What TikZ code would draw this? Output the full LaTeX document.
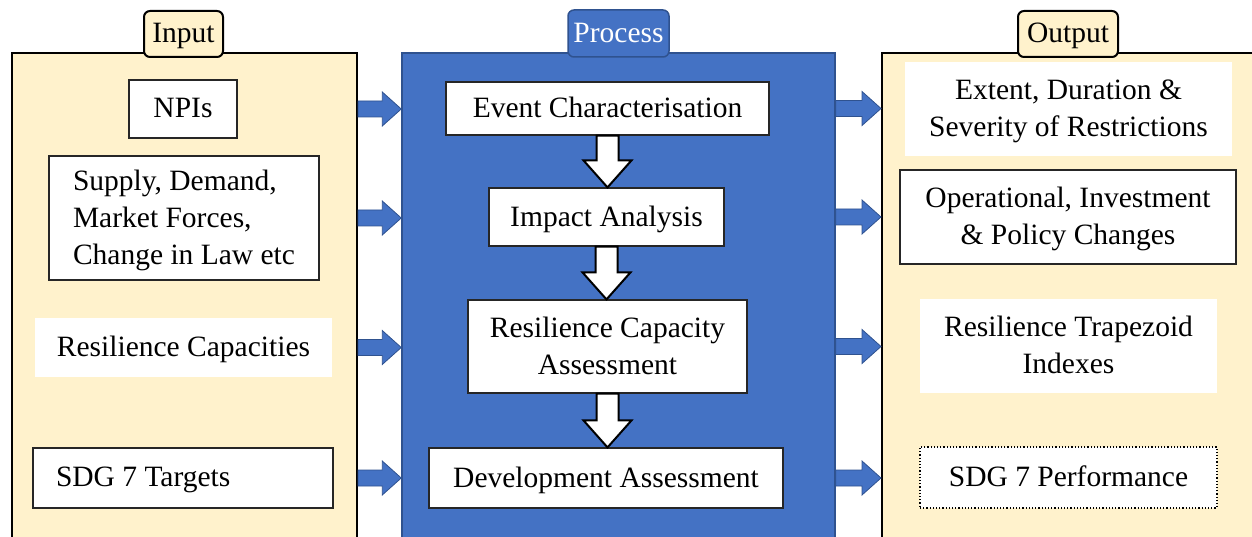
\documentclass[tikz,border=0pt]{standalone}
\usepackage{fontspec}
\setmainfont{Liberation Serif}
\usetikzlibrary{calc}
\definecolor{cream}{HTML}{FFF2CC}
\definecolor{procblue}{HTML}{4472C4}
\definecolor{procedge}{HTML}{2F528F}

% blue block arrow pointing right, from #1 to #2
\newcommand{\rightblock}[2]{%
  \draw[bluearrow] let \p1=(#1), \p2=(#2) in
    (\x1,\y1+8) -- (\x2-19,\y1+8) -- (\x2-19,\y1+17) -- (\x2,\y1)
    -- (\x2-19,\y1-17) -- (\x2-19,\y1-8) -- (\x1,\y1-8) -- cycle;}
% white block arrow pointing down, from #1 to #2
\newcommand{\downblock}[2]{%
  \draw[whitearrow] let \p1=(#1), \p2=(#2) in
    (\x1-11,\y1) -- (\x1+11,\y1) -- (\x1+11,\y2+27) -- (\x1+24,\y2+27)
    -- (\x1,\y2) -- (\x1-24,\y2+27) -- (\x1-11,\y2+27) -- cycle;}

\begin{document}
\begin{tikzpicture}[x=1pt,y=-1pt,
  every node/.style={font=\fontsize{29.5}{37}\selectfont, inner sep=0pt,
    text depth=2pt},
  panel/.style={draw=black, line width=2pt, fill=cream, minimum width=#1},
  tag/.style={draw=black, line width=2pt, fill=cream, rounded corners=6pt,
    minimum width=#1, minimum height=46pt},
  item/.style={draw=black!85, line width=1.2pt, fill=white, align=center},
  plain/.style={fill=white, align=center},
  bluearrow/.style={fill=procblue, draw=procedge, line width=0.8pt},
  whitearrow/.style={fill=white, draw=black, line width=2pt, line join=miter},
]
\useasboundingbox (0,0) rectangle (1252,537);

% ---- panels ----
\node[panel=345pt, minimum height=492pt] (inPanel) at (184.5,299) {};
\node[draw=procedge, line width=1.5pt, fill=procblue, minimum width=433pt,
      minimum height=492pt] (proc) at (618.5,299) {};
\node[panel=380pt, minimum height=492pt] (outPanel) at (1072,299) {};

% ---- headings ----
\node[tag=79pt] (inTag) at (183.5,34) {Input};
\node[draw=procedge, line width=1.5pt, fill=procblue, rounded corners=6pt,
      minimum width=101pt, minimum height=47pt, text=white] (procTag)
      at (618.5,33.5) {Process};
\node[tag=100pt] (outTag) at (1068,34) {Output};

% ---- inputs ----
\node[item, minimum width=108pt, minimum height=58pt] (npi) at (183,109) {NPIs};
\node[item, align=left, minimum width=270pt, minimum height=124pt]
  (sup) at (184,218) {Supply, Demand,\\Market Forces,\\Change in Law etc};
\node[plain, minimum width=297pt, minimum height=59pt] (rc) at (183.5,347.5)
  {Resilience Capacities};
\node[item, align=flush left, text width=254pt, inner xsep=23pt, minimum height=60pt]
  (sdgT) at (183,478) {SDG 7 Targets};

% ---- process steps ----
\node[item, minimum width=323pt, minimum height=53pt] (ec) at (607.5,108.5)
  {Event Characterisation};
\node[item, minimum width=235pt, minimum height=58pt] (ia) at (606.5,217)
  {Impact Analysis};
\node[item, minimum width=279pt, minimum height=93pt] (rca) at (607.5,346.5)
  {Resilience Capacity\\Assessment};
\node[item, minimum width=354pt, minimum height=60pt] (da) at (606,478)
  {Development Assessment};

% ---- outputs ----
\node[plain, minimum width=327pt, minimum height=94pt] (ext) at (1068.5,109)
  {Extent, Duration \&\\Severity of Restrictions};
\node[item, minimum width=336pt, minimum height=94pt] (op) at (1068,217)
  {Operational, Investment\\\& Policy Changes};
\node[plain, minimum width=297pt, minimum height=94pt] (rt) at (1068.5,346)
  {Resilience Trapezoid\\Indexes};
\node[fill=white, draw=black, line width=1.2pt, dotted, minimum width=297pt,
      minimum height=61pt] (sp) at (1068.5,477.5) {SDG 7 Performance};

% ---- flow between steps ----
\downblock{ec.south}{ia.north}
\downblock{ia.south}{rca.north}
\downblock{rca.south}{da.north}

% ---- inputs into the process ----
\rightblock{npi -| inPanel.east}{npi -| proc.west}
\rightblock{sup -| inPanel.east}{sup -| proc.west}
\rightblock{rc -| inPanel.east}{rc -| proc.west}
\rightblock{sdgT -| inPanel.east}{sdgT -| proc.west}

% ---- process into the outputs ----
\rightblock{ec -| proc.east}{ec -| outPanel.west}
\rightblock{ia -| proc.east}{ia -| outPanel.west}
\rightblock{rca -| proc.east}{rca -| outPanel.west}
\rightblock{da -| proc.east}{da -| outPanel.west}
\end{tikzpicture}
\end{document}
